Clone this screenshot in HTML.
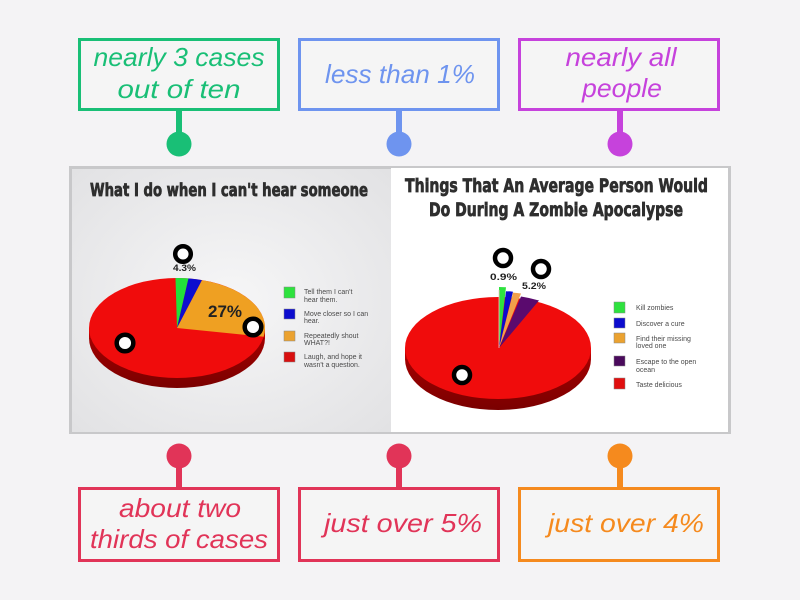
<!DOCTYPE html>
<html>
<head>
<meta charset="utf-8">
<style>
  html,body{margin:0;padding:0;background:#f4f3f5;}
  svg{display:block;}
  .hw{font-family:"Liberation Sans","DejaVu Sans",sans-serif;font-style:italic;font-size:26px;}
  .ttl{font-family:"DejaVu Sans Condensed","Liberation Sans Narrow","Liberation Sans",sans-serif;font-weight:bold;fill:#2e2e2e;stroke:#2e2e2e;stroke-width:0.7;}
  .lg{font-family:"Liberation Sans","DejaVu Sans",sans-serif;font-size:7px;fill:#4a4a4a;}
  .pc{font-family:"Liberation Sans","DejaVu Sans",sans-serif;font-weight:bold;fill:#222;}
</style>
</head>
<body>
<svg width="800" height="600" viewBox="0 0 800 600" xmlns="http://www.w3.org/2000/svg">
  <defs>
    <radialGradient id="lbg" cx="50%" cy="50%" r="70%">
      <stop offset="0" stop-color="#f6f6f7"/>
      <stop offset="1" stop-color="#e2e2e4"/>
    </radialGradient>
    <linearGradient id="side" x1="0" y1="0" x2="0" y2="1">
      <stop offset="0" stop-color="#c80000"/>
      <stop offset="1" stop-color="#7a0000"/>
    </linearGradient>
  </defs>

  <rect x="0" y="0" width="800" height="600" fill="#f4f3f5"/>

  <!-- TOP BOXES -->
  <g fill="#f5f5f5" stroke-width="3">
    <rect x="79.5" y="39.5" width="199" height="70" stroke="#19bf76"/>
    <rect x="299.5" y="39.5" width="199" height="70" stroke="#6e94ef"/>
    <rect x="519.5" y="39.5" width="199" height="70" stroke="#c642dc"/>
  </g>
  <text class="hw" fill="#19bf76" x="179" y="66" text-anchor="middle" textLength="171" lengthAdjust="spacingAndGlyphs">nearly 3 cases</text>
  <text class="hw" fill="#19bf76" x="179" y="98" text-anchor="middle" textLength="123" lengthAdjust="spacingAndGlyphs">out of ten</text>
  <text class="hw" fill="#6e94ef" x="400" y="83" text-anchor="middle" textLength="150" lengthAdjust="spacingAndGlyphs">less than 1%</text>
  <text class="hw" fill="#c642dc" x="621" y="66" text-anchor="middle" textLength="111" lengthAdjust="spacingAndGlyphs">nearly all</text>
  <text class="hw" fill="#c642dc" x="622" y="97" text-anchor="middle" textLength="80" lengthAdjust="spacingAndGlyphs">people</text>

  <!-- top stems -->
  <rect x="176" y="110" width="6" height="30" fill="#19bf76"/>
  <circle cx="179" cy="144" r="12.5" fill="#19bf76"/>
  <rect x="396" y="110" width="6" height="30" fill="#6e94ef"/>
  <circle cx="399" cy="144" r="12.5" fill="#6e94ef"/>
  <rect x="617" y="110" width="6" height="30" fill="#c642dc"/>
  <circle cx="620" cy="144" r="12.5" fill="#c642dc"/>

  <!-- CHART IMAGE FRAME -->
  <rect x="69" y="166" width="662" height="268" fill="#c8c8ca"/>
  <rect x="72" y="169" width="319" height="263" fill="url(#lbg)"/>
  <rect x="391" y="168" width="337" height="264" fill="#ffffff"/>

  <!-- LEFT CHART -->
  <text class="ttl" x="90" y="196" font-size="18" textLength="278" lengthAdjust="spacingAndGlyphs">What I do when I can't hear someone</text>

  <!-- left pie side -->
  <ellipse cx="177" cy="338" rx="88" ry="50" fill="url(#side)"/>
  <rect x="89" y="328" width="176" height="10" fill="#b80000"/>
  <!-- left pie face -->
  <ellipse cx="177" cy="328" rx="88" ry="50" fill="#f00c0c"/>
  <path d="M177 328 L175.5 278.0 A88 50 0 0 1 188.5 278.4 Z" fill="#22e03a"/>
  <path d="M177 328 L188.5 278.4 A88 50 0 0 1 202 280.1 Z" fill="#0d0dcf"/>
  <path d="M177 328 L202 280.1 A88 50 0 0 1 263.7 336.7 Z" fill="#efa022"/>

  <!-- left legend -->
  <rect x="284" y="287" width="11" height="11" fill="#2ee23e" stroke="#888" stroke-width="0.5"/>
  <rect x="284" y="309" width="11" height="10" fill="#0c0cce" stroke="#888" stroke-width="0.5"/>
  <rect x="284" y="331" width="11" height="10" fill="#eba230" stroke="#888" stroke-width="0.5"/>
  <rect x="284" y="352" width="11" height="10" fill="#d80f0f" stroke="#888" stroke-width="0.5"/>
  <text class="lg" x="304" y="294">Tell them I can't</text>
  <text class="lg" x="304" y="302">hear them.</text>
  <text class="lg" x="304" y="316">Move closer so I can</text>
  <text class="lg" x="304" y="323">hear.</text>
  <text class="lg" x="304" y="338">Repeatedly shout</text>
  <text class="lg" x="304" y="345">WHAT?!</text>
  <text class="lg" x="304" y="359">Laugh, and hope it</text>
  <text class="lg" x="304" y="367">wasn't a question.</text>

  <text class="pc" x="173" y="271" font-size="9" textLength="23" lengthAdjust="spacingAndGlyphs">4.3%</text>
  <text class="pc" x="208" y="317" font-size="17" textLength="34" lengthAdjust="spacingAndGlyphs">27%</text>

  <!-- RIGHT CHART -->
  <text class="ttl" x="405" y="192" font-size="19" textLength="303" lengthAdjust="spacingAndGlyphs">Things That An Average Person Would</text>
  <text class="ttl" x="429" y="216" font-size="19" textLength="254" lengthAdjust="spacingAndGlyphs">Do During A Zombie Apocalypse</text>

  <ellipse cx="498" cy="359" rx="93" ry="51" fill="url(#side)"/>
  <rect x="405" y="348" width="186" height="11" fill="#b80000"/>
  <ellipse cx="498" cy="348" rx="93" ry="51" fill="#f00c0c"/>
  <!-- small slices -->
  <path d="M499 348 L499 287 A93 61 0 0 1 506 287.2 Z" fill="#2ee23e"/>
  <path d="M499 348 L506 291.2 A93 57 0 0 1 513 291.7 Z" fill="#0c0cce"/>
  <path d="M499 348 L513 292.6 A93 56 0 0 1 521 293.5 Z" fill="#f2a04a"/>
  <path d="M499 348 L521 296.5 A93 53 0 0 1 539 300.5 Z" fill="#5a0a6e"/>
  <line x1="499" y1="348" x2="499" y2="290" stroke="#f6c4c4" stroke-width="0.8"/>

  <!-- right legend -->
  <rect x="614" y="302" width="11" height="11" fill="#2ee23e" stroke="#888" stroke-width="0.5"/>
  <rect x="614" y="318" width="11" height="10" fill="#0c0cce" stroke="#888" stroke-width="0.5"/>
  <rect x="614" y="333" width="11" height="10" fill="#eba230" stroke="#888" stroke-width="0.5"/>
  <rect x="614" y="356" width="11" height="10" fill="#4a0a5c" stroke="#888" stroke-width="0.5"/>
  <rect x="614" y="378" width="11" height="11" fill="#e00f0f" stroke="#888" stroke-width="0.5"/>
  <text class="lg" x="636" y="310">Kill zombies</text>
  <text class="lg" x="636" y="326">Discover a cure</text>
  <text class="lg" x="636" y="341">Find their missing</text>
  <text class="lg" x="636" y="348">loved one</text>
  <text class="lg" x="636" y="364">Escape to the open</text>
  <text class="lg" x="636" y="372">ocean</text>
  <text class="lg" x="636" y="387">Taste delicious</text>

  <text class="pc" x="490" y="280" font-size="9.5" textLength="27" lengthAdjust="spacingAndGlyphs" fill="#333">0.9%</text>
  <text class="pc" x="522" y="289" font-size="9.5" textLength="24" lengthAdjust="spacingAndGlyphs" fill="#333">5.2%</text>

  <!-- ring markers -->
  <g fill="#ffffff" stroke="#000" stroke-width="4.5">
    <circle cx="183" cy="254" r="7.8"/>
    <circle cx="253" cy="327" r="8.3"/>
    <circle cx="125" cy="343" r="8.3"/>
    <circle cx="503" cy="258" r="8"/>
    <circle cx="541" cy="269" r="8"/>
    <circle cx="462" cy="375" r="8"/>
  </g>

  <!-- BOTTOM stems -->
  <circle cx="179" cy="456" r="12.5" fill="#e13458"/>
  <rect x="176" y="458" width="6" height="31" fill="#e13458"/>
  <circle cx="399" cy="456" r="12.5" fill="#e13458"/>
  <rect x="396" y="458" width="6" height="31" fill="#e13458"/>
  <circle cx="620" cy="456" r="12.5" fill="#f58a1e"/>
  <rect x="617" y="458" width="6" height="31" fill="#f58a1e"/>

  <!-- BOTTOM BOXES -->
  <g fill="#f5f5f5" stroke-width="3">
    <rect x="79.5" y="488.5" width="199" height="72" stroke="#e13458"/>
    <rect x="299.5" y="488.5" width="199" height="72" stroke="#e13458"/>
    <rect x="519.5" y="488.5" width="199" height="72" stroke="#f58a1e"/>
  </g>
  <text class="hw" fill="#e13458" x="180" y="517" text-anchor="middle" textLength="122" lengthAdjust="spacingAndGlyphs">about two</text>
  <text class="hw" fill="#e13458" x="179" y="548" text-anchor="middle" textLength="178" lengthAdjust="spacingAndGlyphs">thirds of cases</text>
  <text class="hw" fill="#e13458" x="403" y="532" text-anchor="middle" textLength="158" lengthAdjust="spacingAndGlyphs">just over 5%</text>
  <text class="hw" fill="#f58a1e" x="626" y="532" text-anchor="middle" textLength="156" lengthAdjust="spacingAndGlyphs">just over 4%</text>
</svg>
</body>
</html>
